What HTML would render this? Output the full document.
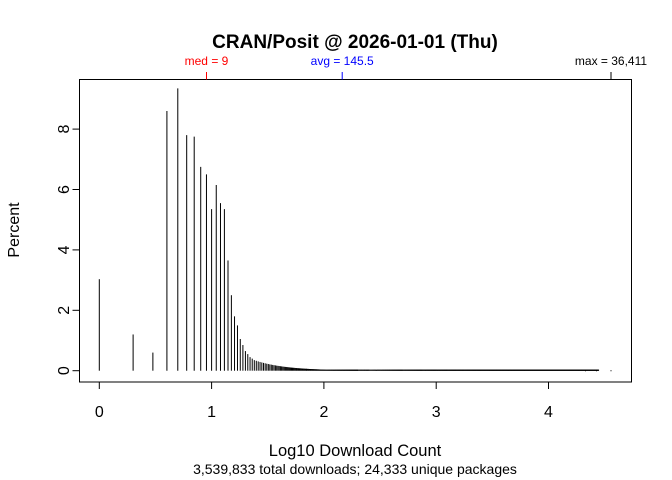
<!DOCTYPE html>
<html><head><meta charset="utf-8"><style>body{margin:0;background:#fff}svg{display:block}text{font-family:"Liberation Sans",sans-serif}</style></head>
<body>
<svg id="s" width="672" height="480" xmlns="http://www.w3.org/2000/svg">
<rect width="672" height="480" fill="#fff"/>
<text x="355" y="48" font-size="19" font-weight="bold" text-anchor="middle">CRAN/Posit @ 2026-01-01 (Thu)</text>
<rect x="79.5" y="79.5" width="552" height="302.5" fill="none" stroke="#000" stroke-width="1"/>
<g id="bars" stroke="#000" stroke-width="1"></g>
<g stroke="#000">
<line x1="99.3" y1="382" x2="548.5" y2="382"/>
<line x1="99.3" y1="382" x2="99.3" y2="389"/><line x1="211.6" y1="382" x2="211.6" y2="389"/><line x1="323.9" y1="382" x2="323.9" y2="389"/><line x1="436.2" y1="382" x2="436.2" y2="389"/><line x1="548.5" y1="382" x2="548.5" y2="389"/>
<line x1="79.5" y1="370.7" x2="79.5" y2="129"/>
<line x1="72.5" y1="370.7" x2="79.5" y2="370.7"/><line x1="72.5" y1="310.3" x2="79.5" y2="310.3"/><line x1="72.5" y1="249.9" x2="79.5" y2="249.9"/><line x1="72.5" y1="189.5" x2="79.5" y2="189.5"/><line x1="72.5" y1="129.1" x2="79.5" y2="129.1"/>
<line x1="611" y1="72" x2="611" y2="79.5"/>
</g>
<line x1="206.5" y1="72" x2="206.5" y2="79.5" stroke="#f00"/>
<line x1="342.2" y1="72" x2="342.2" y2="79.5" stroke="#00f"/>
<text x="206.5" y="65" font-size="12" fill="#f00" text-anchor="middle">med = 9</text>
<text x="342.2" y="65" font-size="12" fill="#00f" text-anchor="middle">avg = 145.5</text>
<text x="611" y="65" font-size="12" text-anchor="middle">max = 36,411</text>
<g font-size="16" text-anchor="middle">
<text x="99.3" y="417">0</text><text x="211.6" y="417">1</text><text x="323.9" y="417">2</text><text x="436.2" y="417">3</text><text x="548.5" y="417">4</text>
</g>
<g font-size="16" text-anchor="middle">
<text transform="translate(69,370.7) rotate(-90)">0</text>
<text transform="translate(69,310.3) rotate(-90)">2</text>
<text transform="translate(69,249.9) rotate(-90)">4</text>
<text transform="translate(69,189.5) rotate(-90)">6</text>
<text transform="translate(69,129.1) rotate(-90)">8</text>
<text transform="translate(19,230) rotate(-90)">Percent</text>
</g>
<text x="355" y="456" font-size="16.5" text-anchor="middle">Log10 Download Count</text>
<text x="355" y="474" font-size="14" text-anchor="middle">3,539,833 total downloads; 24,333 unique packages</text>
</svg>
<script>
var h=[3.03,1.2,0.6,8.6,9.35,7.8,7.75,6.75,6.5,5.35,6.15,5.55,5.35,3.65,2.5,1.8,1.5,1.05,0.85,0.65,0.55,0.45,0.4,0.35];
var g=document.getElementById('bars'),s='';
function ln(k,v){var x=99.3+Math.log10(k)*112.3,y=370.7-v*30.2;if(y>369.7)y=369.7;s+='<line x1="'+x.toFixed(2)+'" y1="370.7" x2="'+x.toFixed(2)+'" y2="'+y.toFixed(2)+'"/>';}
for(var k=1;k<=h.length;k++)ln(k,h[k-1]);
for(k=25;k<=200;k++)ln(k,0.35*Math.pow(24/k,1.6));
for(k=200;k<28000;k=Math.ceil(k*1.004)+1)ln(k,0.03);
s+='<line x1="585" y1="370.7" x2="586" y2="370.7"/><line x1="596" y1="370.7" x2="597" y2="370.7"/><line x1="610.5" y1="370.7" x2="611.5" y2="370.7"/>';
g.innerHTML=s;
</script>
</body></html>
